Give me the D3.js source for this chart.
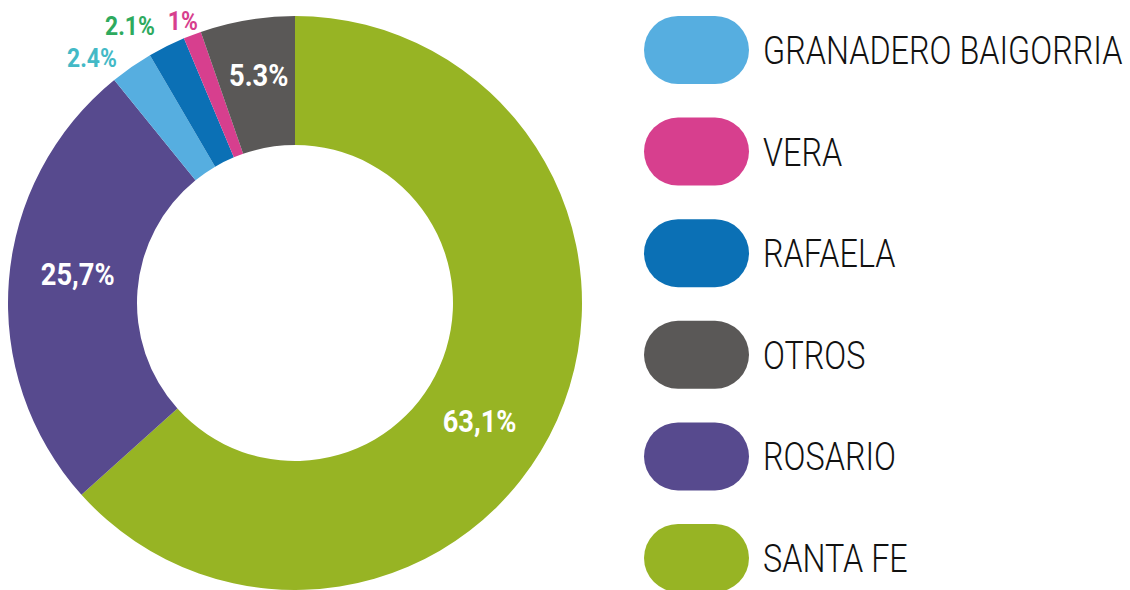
<!DOCTYPE html>
<html>
<head>
<meta charset="utf-8">
<script src="https://cdn.jsdelivr.net/npm/d3@7"></script>
<style>
  body { margin: 0; background: #fff; }
  text { font-family: Roboto, "Liberation Sans", sans-serif; }
</style>
</head>
<body>
<div id="chart"></div>
<script>
// Data (order of the slices, clockwise from 12 o'clock)
const categories = ["SANTA FE", "ROSARIO", "GRANADERO BAIGORRIA", "RAFAELA", "VERA", "OTROS"];
const values = [63.1, 25.7, 2.4, 2.1, 1, 5.3];
const valueLabels = ["63,1%", "25,7%", "2.4%", "2.1%", "1%", "5.3%"];
// legend order (top to bottom)
const legendOrder = ["GRANADERO BAIGORRIA", "VERA", "RAFAELA", "OTROS", "ROSARIO", "SANTA FE"];

const colors = {
    "SANTA FE": "#97b424",
    "ROSARIO": "#574a8e",
    "GRANADERO BAIGORRIA": "#56aee0",
    "RAFAELA": "#0b70b5",
    "VERA": "#d73f8e",
    "OTROS": "#5a5857"
};
// colour of the labels placed outside the ring
const outsideLabelColors = {
    "GRANADERO BAIGORRIA": "#43b9c6",
    "RAFAELA": "#2eaa5e",
    "VERA": "#d73f8e"
};

const width = 1130;
const height = 590;
const cx = 295, cy = 303;
const outerR = 287, innerR = 158;

const svg = d3.select("#chart")
    .append("svg")
    .attr("width", width)
    .attr("height", height);

const g = svg.append("g")
    .attr("transform", "translate(" + cx + "," + cy + ")");

const pie = d3.pie().sort(null).value(d => d.value);
const arc = d3.arc().innerRadius(innerR).outerRadius(outerR);

const slices = pie(categories.map((c, i) => ({ name: c, value: values[i], label: valueLabels[i] })));

g.selectAll("path")
    .data(slices)
    .enter().append("path")
    .attr("d", arc)
    .attr("fill", d => colors[d.data.name]);

// label radius per slice (inside ring vs outside)
const labelRadius = {
    "SANTA FE": 235,
    "ROSARIO": 220,
    "GRANADERO BAIGORRIA": 318,
    "RAFAELA": 322,
    "VERA": 308,
    "OTROS": 230
};
const labelShift = {
    "SANTA FE": [-30, 22],
    "ROSARIO": [2, -12],
    "GRANADERO BAIGORRIA": [-22, 16],
    "RAFAELA": [-21, 11],
    "VERA": [-2, 5],
    "OTROS": [2, -1]
};

g.selectAll(".lbl")
    .data(slices)
    .enter().append("text")
    .attr("class", "lbl")
    .attr("transform", d => {
        const a = (d.startAngle + d.endAngle) / 2;
        const r = labelRadius[d.data.name];
        const s = labelShift[d.data.name];
        const x = Math.sin(a) * r + s[0];
        const y = -Math.cos(a) * r + s[1];
        return "translate(" + x + "," + y + ") scale(0.88,1)";
    })
    .attr("text-anchor", "middle")
    .attr("dy", "0.36em")
    .attr("font-size", d => outsideLabelColors[d.data.name] ? 26 : 31)
    .attr("font-weight", "bold")
    .attr("fill", d => outsideLabelColors[d.data.name] || "#fff")
    .text(d => d.data.label);

// Legend
const legendY = d3.scalePoint()
    .domain(legendOrder)
    .range([50, 558]);

const legend = svg.selectAll(".legend")
    .data(legendOrder)
    .enter().append("g")
    .attr("class", "legend")
    .attr("transform", d => "translate(644," + legendY(d) + ")");

legend.append("rect")
    .attr("x", 0)
    .attr("y", -34)
    .attr("width", 105)
    .attr("height", 68)
    .attr("rx", 34)
    .attr("fill", d => colors[d]);

legend.append("text")
    .attr("transform", "translate(119,0) scale(0.83,1)")
    .attr("dy", "0.36em")
    .attr("font-size", 39)
    .attr("font-weight", 300)
    .attr("fill", "#111")
    .text(d => d);
</script>
</body>
</html>
